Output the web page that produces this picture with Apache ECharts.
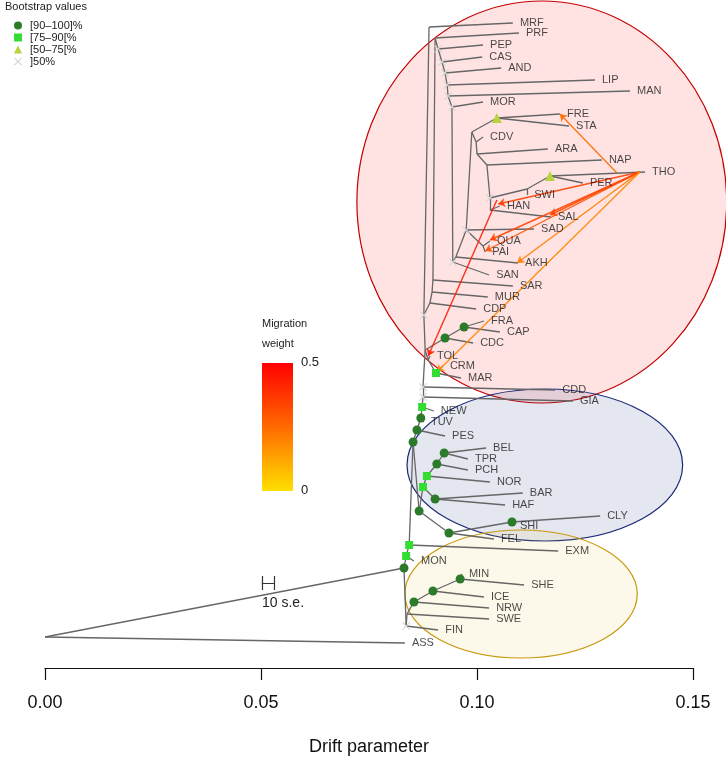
<!DOCTYPE html>
<html>
<head>
<meta charset="utf-8">
<title>Drift tree</title>
<script src="https://cdn.jsdelivr.net/npm/echarts@6/dist/echarts.min.js"></script>
<style>
html, body { margin: 0; padding: 0; background: #fff; }
#main { width: 726px; height: 761px; }
</style>
</head>
<body>
<div id="main"></div>
<script>
// 叶节点: [名称, 漂移参数, 纵向位置]
var leaves = [
    ['MRF', 0.1083, 23], ['PRF', 0.1097, 33], ['PEP', 0.1014, 45], ['CAS', 0.1012, 57],
    ['AND', 0.1056, 68], ['LIP', 0.1273, 80], ['MAN', 0.1354, 91], ['MOR', 0.1014, 102],
    ['FRE', 0.1192, 114], ['STA', 0.1213, 126], ['CDV', 0.1014, 137], ['ARA', 0.1164, 149],
    ['NAP', 0.1289, 160], ['THO', 0.1389, 172], ['PER', 0.1245, 183], ['SWI', 0.1116, 195],
    ['HAN', 0.1053, 206], ['SAL', 0.1171, 217], ['SAD', 0.1132, 229], ['QUA', 0.1030, 241],
    ['PAI', 0.1019, 252], ['AKH', 0.1095, 263], ['SAN', 0.1028, 275], ['SAR', 0.1083, 286],
    ['MUR', 0.1025, 297], ['CDP', 0.0998, 309], ['FRA', 0.1016, 321], ['CAP', 0.1053, 332],
    ['CDC', 0.0991, 343], ['TOL', 0.0891, 356], ['CRM', 0.0921, 366], ['MAR', 0.0963, 378],
    ['CDD', 0.1181, 390], ['GIA', 0.1222, 401], ['NEW', 0.0900, 411], ['TUV', 0.0877, 422],
    ['PES', 0.0926, 436], ['BEL', 0.1021, 448], ['TPR', 0.0979, 459], ['PCH', 0.0979, 470],
    ['NOR', 0.1030, 482], ['BAR', 0.1106, 493], ['HAF', 0.1065, 505], ['CLY', 0.1285, 516],
    ['SHI', 0.1083, 526], ['FEL', 0.1039, 539], ['EXM', 0.1188, 551], ['MON', 0.0854, 561],
    ['MIN', 0.0965, 574], ['SHE', 0.1109, 585], ['ICE', 0.1016, 597], ['NRW', 0.1028, 608],
    ['SWE', 0.1028, 619], ['FIN', 0.0910, 630], ['ASS', 0.0833, 643]
];

// 内部节点: [名称, 漂移参数, 纵向位置, bootstrap 等级 0无 1[90-100] 2[75-90[ 3[50-75[ 4]50%]
var innerNodes = [
    ['root', 0, 637, 0], ['A', 0.0831, 568, 1], ['L1', 0.0836, 626, 4], ['L2', 0.0838, 614, 0],
    ['B', 0.0854, 602, 1], ['C', 0.0898, 591, 1], ['D', 0.0961, 579, 1], ['M1', 0.0836, 556, 2],
    ['M2', 0.0843, 545, 2], ['N1', 0.0852, 442, 1], ['N2', 0.0861, 430, 1], ['N3', 0.0870, 418, 1],
    ['N4', 0.0873, 407, 2], ['P', 0.0866, 511, 1], ['Q', 0.0875, 487, 2], ['R', 0.0884, 476, 2],
    ['PC', 0.0907, 464, 1], ['BE', 0.0924, 453, 1], ['BA', 0.0903, 499, 1], ['FE', 0.0935, 533, 1],
    ['SH', 0.1081, 522, 1], ['S1', 0.0875, 397, 4], ['S2', 0.0875, 387, 4], ['T1', 0.0880, 350, 0],
    ['T2', 0.0887, 360, 0], ['MA', 0.0905, 373, 2], ['C1', 0.0926, 338, 1], ['C2', 0.0970, 327, 1],
    ['S4', 0.0877, 315, 4], ['MRn', 0.0889, 27, 0], ['CD', 0.0891, 303, 0], ['MU', 0.0896, 292, 0],
    ['SA', 0.0898, 280, 0], ['PRn', 0.0903, 38, 0], ['PE', 0.0910, 49, 4], ['CA', 0.0919, 62, 4],
    ['AN', 0.0926, 73, 4], ['LI', 0.0931, 85, 4], ['MN', 0.0933, 96, 4], ['MO', 0.0942, 107, 4],
    ['K1', 0.0944, 262, 4], ['K2', 0.0951, 257, 0], ['K3', 0.0975, 230, 4], ['QP', 0.1014, 246, 0],
    ['V1', 0.0988, 132, 0], ['FS', 0.1046, 118, 3], ['VC', 0.0998, 142, 0], ['V2', 0.1000, 154, 0],
    ['V3', 0.1023, 165, 0], ['H1', 0.1030, 198, 4], ['SW', 0.1116, 189, 0], ['PR', 0.1169, 176, 3],
    ['H2', 0.1030, 210, 0]
];

// 树的边: [父, 子]
var edges = [
    ['root', 'ASS'], ['root', 'A'], ['A', 'M1'], ['A', 'L1'], ['L1', 'FIN'], ['L1', 'L2'],
    ['L2', 'SWE'], ['L2', 'B'], ['B', 'NRW'], ['B', 'C'], ['C', 'ICE'], ['C', 'D'],
    ['D', 'MIN'], ['D', 'SHE'], ['M1', 'MON'], ['M1', 'M2'], ['M2', 'EXM'], ['M2', 'N1'],
    ['N1', 'N2'], ['N1', 'P'], ['N2', 'PES'], ['N2', 'N3'], ['N3', 'TUV'], ['N3', 'N4'],
    ['N4', 'NEW'], ['N4', 'S1'], ['S1', 'GIA'], ['S1', 'S2'], ['S2', 'CDD'], ['S2', 'T1'],
    ['T1', 'T2'], ['T1', 'C1'], ['T1', 'S4'], ['T2', 'TOL'], ['T2', 'MA'], ['MA', 'MAR'],
    ['MA', 'CRM'], ['C1', 'CDC'], ['C1', 'C2'], ['C2', 'FRA'], ['C2', 'CAP'], ['S4', 'CD'],
    ['S4', 'MRn'], ['MRn', 'MRF'], ['CD', 'CDP'], ['CD', 'MU'], ['MU', 'MUR'], ['MU', 'SA'],
    ['SA', 'SAR'], ['SA', 'PRn'], ['PRn', 'PRF'], ['PRn', 'PE'], ['PE', 'PEP'], ['PE', 'CA'],
    ['CA', 'CAS'], ['CA', 'AN'], ['AN', 'AND'], ['AN', 'LI'], ['LI', 'LIP'], ['LI', 'MN'],
    ['MN', 'MAN'], ['MN', 'MO'], ['MO', 'MOR'], ['MO', 'K1'], ['K1', 'SAN'], ['K1', 'K2'],
    ['K2', 'AKH'], ['K2', 'K3'], ['K3', 'SAD'], ['K3', 'QP'], ['K3', 'V1'], ['QP', 'QUA'],
    ['QP', 'PAI'], ['V1', 'FS'], ['V1', 'VC'], ['FS', 'FRE'], ['FS', 'STA'], ['VC', 'CDV'],
    ['VC', 'V2'], ['V2', 'ARA'], ['V2', 'V3'], ['V3', 'NAP'], ['V3', 'H1'], ['H1', 'SW'],
    ['H1', 'H2'], ['SW', 'SWI'], ['SW', 'PR'], ['PR', 'PER'], ['PR', 'THO'], ['H2', 'HAN'],
    ['H2', 'SAL'], ['P', 'Q'], ['P', 'FE'], ['Q', 'R'], ['Q', 'BA'], ['R', 'NOR'],
    ['R', 'PC'], ['PC', 'PCH'], ['PC', 'BE'], ['BE', 'BEL'], ['BE', 'TPR'], ['BA', 'BAR'],
    ['BA', 'HAF'], ['FE', 'FEL'], ['FE', 'SH'], ['SH', 'SHI'], ['SH', 'CLY']
];

// 迁移边: [起点漂移, 起点位置, 终点漂移, 终点位置, 权重]
var migrations = [
    [0.1377, 172, 0.1049, 204, 0.36],
    [0.1377, 172, 0.1169, 215, 0.34],
    [0.1377, 172, 0.1030, 240, 0.35],
    [0.1377, 172, 0.1019, 251, 0.32],
    [0.1377, 172, 0.1093, 263, 0.22],
    [0.1377, 172, 0.0907, 372, 0.20],
    [0.1324, 173, 0.1192, 114, 0.26],
    [0.1046, 200, 0.0887, 356, 0.44]
];

// 分组椭圆: [中心漂移, 中心位置, 横半径, 纵半径]
var clusters = [
    [0.1150, 202, 0.0428, 201],
    [0.1157, 465, 0.0319, 76],
    [0.1102, 594, 0.0269, 64]
];

// 标尺 10 s.e.: [左, 右, 位置]
var seBar = [0.0502, 0.0530, 583];

var xTicks = [0, 0.05, 0.10, 0.15];
var bootNames = ['[90\u2013100]%', '[75\u201390[%', '[50\u201375[%', ']50%'];

var chart = echarts.init(document.getElementById('main'));

var pos = {};
leaves.forEach(function (n) { pos[n[0]] = [n[1], n[2]]; });
innerNodes.forEach(function (n) { pos[n[0]] = [n[1], n[2]]; });

var xPath = 'path://M0,1L1,0L5,4L9,0L10,1L6,5L10,9L9,10L5,6L1,10L0,9L4,5Z';
var bootSymbols = ['circle', 'rect', 'triangle', xPath];
var bootColors = ['#2b7b2b', '#33dd33', '#b9d23f', '#d4d4d4'];
var bootSizes = [9, 8, 10, 8];
var ellipseStyles = [
    ['rgba(255,0,0,0.11)', '#c40000'],
    ['rgba(30,50,130,0.12)', '#1b2a78'],
    ['rgba(240,200,60,0.11)', '#c8980e']
];

// 权重 -> 颜色 (0 黄, 0.5 红)
function weightColor(w) {
    var t = Math.min(w / 0.5, 1);
    var g = Math.round(224 * (1 - t));
    return 'rgb(255,' + g + ',0)';
}

var series = [];

series.push({
    type: 'custom',
    silent: true,
    z: 0,
    renderItem: function (params, api) {
        var c = api.coord([api.value(0), api.value(1)]);
        var s = api.size([api.value(2), api.value(3)]);
        var st = ellipseStyles[params.dataIndex];
        return {
            type: 'ellipse',
            shape: { cx: c[0], cy: c[1], rx: Math.abs(s[0]), ry: Math.abs(s[1]) },
            style: { fill: st[0], stroke: st[1], lineWidth: 1.2 }
        };
    },
    data: clusters
});

series.push({
    type: 'lines',
    coordinateSystem: 'cartesian2d',
    silent: true,
    z: 2,
    symbol: 'none',
    lineStyle: { color: '#666', width: 1.3, opacity: 1 },
    data: edges.map(function (e) { return { coords: [pos[e[0]], pos[e[1]]] }; })
});

series.push({
    type: 'lines',
    coordinateSystem: 'cartesian2d',
    silent: true,
    z: 3,
    symbol: ['none', 'arrow'],
    symbolSize: 7,
    data: migrations.map(function (m) {
        return {
            coords: [[m[0], m[1]], [m[2], m[3]]],
            lineStyle: { color: weightColor(m[4]), width: 1.4, opacity: 0.9 }
        };
    })
});

// 标尺
series.push({
    type: 'lines',
    coordinateSystem: 'cartesian2d',
    silent: true,
    symbol: 'none',
    lineStyle: { color: '#333', width: 1.2, opacity: 1 },
    data: [
        { coords: [[seBar[0], seBar[2]], [seBar[1], seBar[2]]] },
        { coords: [[seBar[0], seBar[2] - 7], [seBar[0], seBar[2] + 7]] },
        { coords: [[seBar[1], seBar[2] - 7], [seBar[1], seBar[2] + 7]] }
    ]
});

bootNames.forEach(function (name, i) {
    series.push({
        name: name,
        type: 'scatter',
        z: 5,
        symbol: bootSymbols[i],
        symbolSize: bootSizes[i],
        itemStyle: { color: bootColors[i], opacity: 1 },
        data: innerNodes.filter(function (n) { return n[3] === i + 1; })
            .map(function (n) { return [n[1], n[2]]; })
    });
});

series.push({
    type: 'scatter',
    silent: true,
    z: 6,
    symbolSize: 0.1,
    itemStyle: { color: 'rgba(0,0,0,0)' },
    label: {
        show: true,
        position: 'right',
        distance: 7,
        formatter: '{b}',
        fontSize: 11,
        color: '#1a1a1a'
    },
    data: leaves.map(function (n) { return { name: n[0], value: [n[1], n[2]] }; })
});

var option = {
    animation: false,
    textStyle: { fontFamily: 'Liberation Sans, Arial, sans-serif' },
    title: {
        text: 'Bootstrap values',
        left: 5,
        top: 1,
        padding: 0,
        textStyle: { fontSize: 11, fontWeight: 'normal', color: '#222' }
    },
    legend: {
        left: 9,
        top: 15,
        orient: 'vertical',
        itemWidth: 8,
        itemHeight: 8,
        itemGap: 1,
        textStyle: { fontSize: 11, color: '#222', padding: [0, 0, 0, 3] },
        data: bootNames.map(function (n, i) { return { name: n, icon: bootSymbols[i] }; })
    },
    grid: { left: 45, right: 33, top: 0, bottom: 93, containLabel: false, outerBoundsMode: 'none' },
    xAxis: {
        type: 'value',
        position: 'bottom',
        min: xTicks[0],
        max: xTicks[xTicks.length - 1],
        interval: 0.05,
        name: 'Drift parameter',
        nameLocation: 'middle',
        nameGap: 70,
        nameTextStyle: { fontSize: 18, color: '#111' },
        axisLine: { show: true, onZero: false, lineStyle: { color: '#111', width: 1.2 } },
        axisTick: { show: true, length: 12, lineStyle: { color: '#111', width: 1.2 } },
        axisLabel: {
            fontSize: 18,
            color: '#111',
            margin: 26,
            formatter: function (v) { return v.toFixed(2); }
        },
        splitLine: { show: false }
    },
    yAxis: { type: 'value', min: 0, max: 668, inverse: true, show: false },
    graphic: [
        { type: 'text', left: 262, top: 318, style: { text: 'Migration', fontSize: 11, fill: '#222' } },
        { type: 'text', left: 262, top: 338, style: { text: 'weight', fontSize: 11, fill: '#222' } },
        {
            type: 'rect',
            shape: { x: 262, y: 363, width: 31, height: 128 },
            style: {
                fill: new echarts.graphic.LinearGradient(0, 0, 0, 1, [
                    { offset: 0, color: '#ff0000' },
                    { offset: 0.5, color: '#ff6a00' },
                    { offset: 1, color: '#ffe000' }
                ])
            }
        },
        { type: 'text', left: 301, top: 356, style: { text: '0.5', fontSize: 13, fill: '#222' } },
        { type: 'text', left: 301, top: 484, style: { text: '0', fontSize: 13, fill: '#222' } },
        { type: 'text', left: 262, top: 596, style: { text: '10 s.e.', fontSize: 14, fill: '#222' } }
    ],
    series: series
};

chart.setOption(option);

window.onresize = function () {
    chart.resize();
};
</script>
</body>
</html>
